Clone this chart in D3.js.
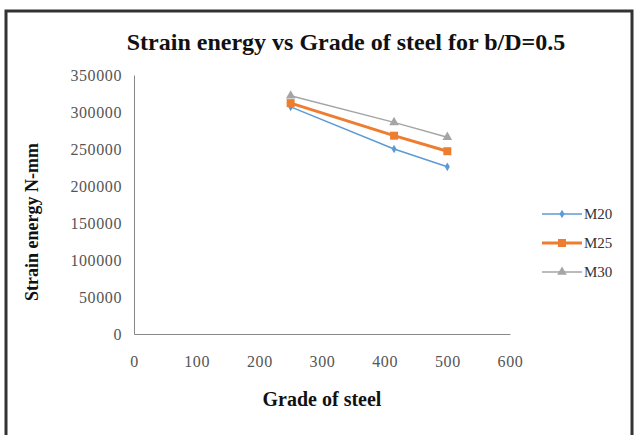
<!DOCTYPE html>
<html>
<head>
<meta charset="utf-8">
<script src="https://cdn.jsdelivr.net/npm/d3@7"></script>
<style>
  body { margin: 0; background: #fff; }
</style>
</head>
<body>
<div id="grafica"></div>
<script>
/*--- datos ---*/
let grados = [250, 415, 500]
let m20 = [307000, 250000, 226000]
let m25 = [312000, 268000, 247000]
let m30 = [322000, 286000, 266000]
let xTicks = [0, 100, 200, 300, 400, 500, 600]
let yTicks = [0, 50000, 100000, 150000, 200000, 250000, 300000, 350000]

let series = [
    { nombre: "M20", valores: m20, color: "#5B9BD5", ancho: 1.5, marca: d3.symbolDiamond, tam: 22 },
    { nombre: "M25", valores: m25, color: "#ED7D31", ancho: 3, marca: d3.symbolSquare, tam: 64 },
    { nombre: "M30", valores: m30, color: "#A5A5A5", ancho: 1.5, marca: d3.symbolTriangle, tam: 40 }
]

let width = 635
let height = 435
let serif = "Liberation Serif"

let svg = d3.select("#grafica").append("svg")
    .attr("width", width).attr("height", height)

// marco
svg.append("rect").attr("x", 6).attr("y", 11).attr("width", 626).attr("height", 430)
    .attr("fill", "none").attr("stroke", "#333").attr("stroke-width", 3)

svg.append("text").attr("x", 346).attr("y", 50)
    .attr("text-anchor", "middle").attr("font-size", 24).attr("font-weight", "bold")
    .style("font-family", serif).attr("fill", "#111")
    .text("Strain energy vs Grade of steel for b/D=0.5")

/*--- escalas ---*/
let x = d3.scaleLinear().domain([0, 600]).range([134, 510])
let y = d3.scaleLinear().domain([0, 350000]).range([334, 75])

// eje y
let ejeY = svg.append("g").attr("transform", "translate(134,0)")
    .call(d3.axisLeft(y).tickValues(yTicks).tickSize(0).tickPadding(12).tickFormat(d3.format("d")))
ejeY.select(".domain").attr("stroke", "#888")
ejeY.selectAll("text").style("font-family", serif).attr("font-size", 16)
    .attr("fill", "#555").attr("letter-spacing", 0.6)

// eje x
let ejeX = svg.append("g").attr("transform", "translate(0,334)")
    .call(d3.axisBottom(x).tickValues(xTicks).tickSize(0).tickPadding(22))
ejeX.select(".domain").attr("stroke", "#888")
ejeX.selectAll("text").style("font-family", serif).attr("font-size", 16)
    .attr("fill", "#555").attr("letter-spacing", 0.6)

svg.append("text").attr("transform", "translate(38,222) rotate(-90)")
    .attr("text-anchor", "middle").attr("font-size", 18).attr("font-weight", "bold")
    .style("font-family", serif).attr("fill", "#111").text("Strain energy N-mm")

svg.append("text").attr("x", 322).attr("y", 406)
    .attr("text-anchor", "middle").attr("font-size", 20).attr("font-weight", "bold")
    .style("font-family", serif).attr("fill", "#111").text("Grade of steel")

/*--- lineas ---*/
let linea = d3.line().x((d, i) => x(grados[i])).y(d => y(d))

series.forEach(function (s) {
    svg.append("path").datum(s.valores)
        .attr("d", linea).attr("fill", "none")
        .attr("stroke", s.color).attr("stroke-width", s.ancho)
    svg.selectAll(null).data(s.valores).enter().append("path")
        .attr("d", d3.symbol().type(s.marca).size(s.tam))
        .attr("transform", (d, i) => "translate(" + x(grados[i]) + "," + y(d) + ")")
        .attr("fill", s.color)
})

/*--- leyenda ---*/
let leyenda = svg.append("g").attr("transform", "translate(542,214)")
series.forEach(function (s, i) {
    let g = leyenda.append("g").attr("transform", "translate(0," + (i * 29) + ")")
    g.append("line").attr("x1", 0).attr("x2", 40).attr("stroke", s.color).attr("stroke-width", s.ancho)
    g.append("path").attr("d", d3.symbol().type(s.marca).size(s.tam))
        .attr("transform", "translate(20,0)").attr("fill", s.color)
    g.append("text").attr("x", 42).attr("y", 5).attr("font-size", 15)
        .style("font-family", serif).attr("fill", "#333").text(s.nombre)
})
</script>
</body>
</html>
